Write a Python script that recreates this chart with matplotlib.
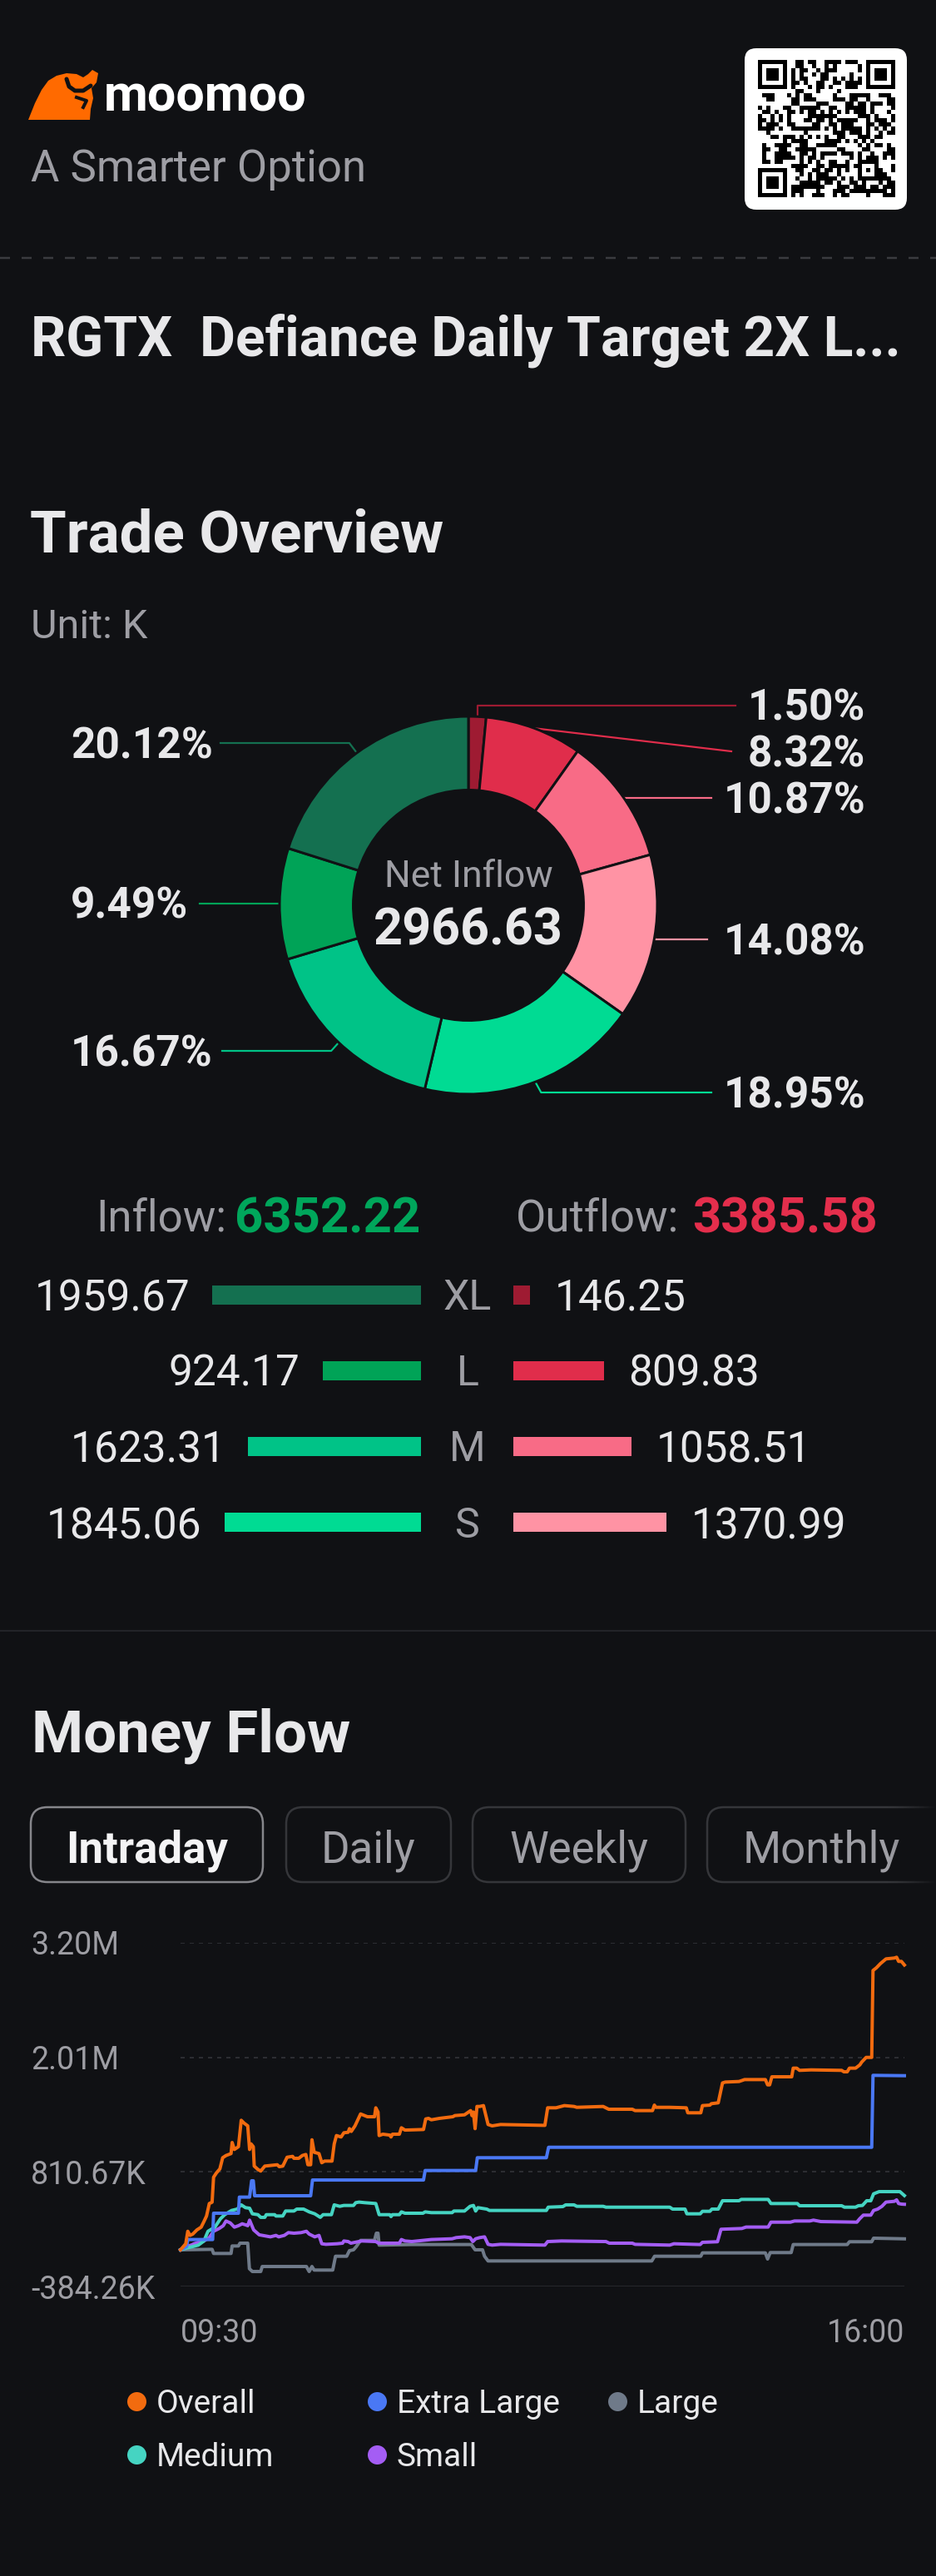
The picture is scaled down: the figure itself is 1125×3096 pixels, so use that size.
import hashlib
import numpy as np
import matplotlib
matplotlib.use("Agg")
import matplotlib.pyplot as plt
from matplotlib.patches import FancyBboxPatch, Polygon

plt.rcParams['font.family'] = ['Roboto', 'DejaVu Sans']
plt.rcParams['lines.scale_dashes'] = False

# ---- data -------------------------------------------------------------
ticker_title = "RGTX  Defiance Daily Target 2X L..."
categories = ["XL", "L", "M", "S"]
inflow = [1959.67, 924.17, 1623.31, 1845.06]
outflow = [146.25, 809.83, 1058.51, 1370.99]
inflow_total = "6352.22"
outflow_total = "3385.58"
net_inflow = "2966.63"

# donut order, clockwise from 12 o'clock
donut_values = [outflow[0], outflow[1], outflow[2], outflow[3],
                inflow[3], inflow[2], inflow[1], inflow[0]]
donut_colors = ['#9e1b32', '#e02d4b', '#f86b86', '#ff93a4',
                '#00db93', '#00c387', '#00a357', '#147050']

tabs = ["Intraday", "Daily", "Weekly", "Monthly"]
y_tick_labels = ['-384.26K', '810.67K', '2.01M', '3.20M']
y_min, y_max = -384.26, 3200.0
x_tick_labels = ['09:30', '16:00']
x_ticks = [0, 390]   # minutes after the open

# intraday cumulative money flow, (minute, value in K)
overall_flow = [
    (0, 0), (2.8, 63), (3.9, 193), (5.1, 150), (6.6, 164), (8.8, 207), (11.1, 236),
    (12.6, 294), (14.0, 352), (15.5, 482), (17.0, 496), (17.8, 756), (19.3, 800),
    (21.2, 843), (22.7, 959), (24.5, 982), (27.2, 1002), (27.8, 1118), (29.0, 1045),
    (31.2, 1074), (32.7, 1349), (34.2, 1320), (36.2, 1291), (37.2, 1045), (38.0, 1103),
    (39.2, 1074), (39.7, 872), (41.7, 837), (43.2, 820), (45.4, 872), (48.4, 878),
    (52.1, 886), (53.2, 866), (55.1, 872), (57.4, 964), (60.4, 973), (61.1, 953),
    (63.7, 953), (65.6, 982), (67.5, 993), (68.6, 886), (70.1, 886), (70.8, 1146),
    (72.0, 1016), (74.6, 1002), (76.1, 907), (77.6, 924), (81.6, 924), (82.8, 1103),
    (84.0, 1190), (86.5, 1175), (88.0, 1219), (90.3, 1224), (91.0, 1262), (92.0, 1233),
    (94.0, 1291), (97.0, 1415), (99.2, 1398), (100.7, 1386), (104.5, 1386), (105.2, 1479),
    (106.4, 1435), (107.0, 1190), (109.0, 1204), (112.7, 1195), (113.4, 1175),
    (114.2, 1204), (117.9, 1204), (119.0, 1271), (120.9, 1247), (130.9, 1253),
    (132.1, 1363), (133.6, 1369), (135.1, 1354), (139.5, 1369), (146.7, 1386),
    (147.8, 1398), (153.0, 1406), (155.2, 1435), (156.3, 1450), (157.0, 1398),
    (157.8, 1435), (158.7, 1262), (159.7, 1493), (161.2, 1493), (163.2, 1502),
    (165.7, 1305), (167.9, 1291), (172.4, 1305), (196.3, 1296), (197.8, 1479),
    (202.3, 1479), (206.8, 1502), (212.0, 1493), (213.5, 1484), (227.7, 1493),
    (230.7, 1464), (243.4, 1464), (244.9, 1450), (254.3, 1450), (255.3, 1507),
    (256.1, 1484), (263.6, 1484), (272.5, 1479), (273.3, 1427), (280.3, 1427),
    (281.2, 1502), (285.2, 1507), (286.0, 1522), (289.7, 1531), (292.0, 1738),
    (293.5, 1747), (300.9, 1753), (303.9, 1773), (315.1, 1773), (316.3, 1718),
    (317.4, 1718), (318.6, 1802), (329.3, 1802), (330.1, 1892), (332.0, 1892),
    (333.5, 1869), (339.8, 1874), (356.2, 1869), (357.4, 1854), (359.2, 1854),
    (360.4, 1892), (363.7, 1892), (366.0, 1926), (367.0, 1955), (369.4, 2004),
    (372.4, 2004), (373.1, 2909), (374.9, 2937), (377.1, 2981), (380.1, 3030),
    (384.6, 3039), (385.8, 3047), (386.9, 3004), (388.4, 3004), (390, 2966.63)]

extra_large_flow = [
    (0, 0), (3.3, 34), (3.9, 107), (17.3, 107), (17.8, 381), (31.2, 381), (31.7, 549),
    (37.2, 549), (38.3, 719), (39.2, 719), (39.9, 563), (70.1, 563), (71.1, 727),
    (130.9, 727), (131.8, 826), (159.0, 826), (159.9, 959), (197.1, 959), (198.3, 1068),
    (372.4, 1068), (373.1, 1817), (390, 1813.42)]

large_flow = [
    (0, 0), (17.0, 5), (17.8, -38), (27.2, -38), (27.8, 40), (31.2, 40), (32.0, 69),
    (36.2, 69), (37.1, -197), (38.7, -226), (43.2, -226), (44.0, -174), (67.8, -174),
    (69.3, -226), (70.8, -174), (72.0, -211), (82.0, -211), (83.5, -67), (89.5, -67),
    (91.0, -9), (93.2, 0), (94.7, 34), (97.0, 98), (104.5, 98), (105.5, 173),
    (106.4, 173), (107.0, 49), (124.6, 55), (156.7, 55), (158.7, 0), (162.7, 0),
    (163.8, -67), (165.7, -116), (253.9, -116), (255.4, -67), (280.3, -67), (281.2, -32),
    (315.1, -32), (316.3, -96), (317.7, -29), (329.0, -29), (330.1, 55), (359.2, 55),
    (360.4, 84), (372.4, 84), (373.4, 121), (390, 114.34)]

medium_flow = [
    (0, 0), (3.6, 20), (6.6, 34), (9.6, 49), (12.6, 92), (14.8, 193), (18.5, 236),
    (21.5, 323), (23.8, 366), (27.5, 410), (30.5, 424), (32.7, 468), (35.0, 439),
    (37.2, 433), (38.7, 375), (41.7, 366), (43.2, 338), (45.4, 338), (46.2, 366),
    (50.7, 366), (51.4, 352), (55.1, 352), (56.6, 404), (61.1, 404), (62.6, 424),
    (66.3, 424), (69.3, 395), (72.3, 375), (75.3, 338), (76.8, 366), (81.3, 366),
    (82.8, 468), (85.8, 453), (88.0, 462), (93.2, 462), (94.4, 491), (96.2, 497),
    (99.2, 491), (105.2, 482), (107.0, 366), (112.7, 366), (113.4, 346), (114.2, 366),
    (117.9, 366), (119.0, 395), (120.9, 381), (130.6, 381), (131.8, 395), (135.1, 387),
    (146.3, 387), (147.3, 404), (153.0, 404), (156.0, 453), (157.8, 462), (159.0, 404),
    (160.2, 439), (165.0, 424), (166.4, 410), (197.1, 410), (198.1, 444), (206.0, 450),
    (207.5, 468), (212.0, 468), (213.5, 453), (227.7, 453), (229.2, 444), (263.6, 444),
    (265.1, 424), (271.8, 424), (272.8, 375), (280.0, 375), (281.2, 401), (285.2, 401),
    (286.3, 424), (289.7, 424), (292.0, 511), (300.9, 511), (302.1, 525), (316.6, 525),
    (318.1, 482), (332.3, 482), (333.5, 459), (356.2, 459), (357.7, 444), (363.7, 444),
    (365.2, 459), (367.4, 462), (369.7, 511), (371.9, 511), (373.4, 583), (376.4, 606),
    (387.6, 606), (390, 564.80)]

small_flow = [
    (0, 0), (2.8, 34), (5.8, 49), (7.3, 63), (9.6, 78), (12.6, 92), (15.5, 127),
    (17.8, 193), (20.8, 222), (23.0, 251), (24.5, 300), (26.8, 280), (29.0, 236),
    (31.2, 251), (33.2, 271), (35.0, 260), (36.2, 251), (37.2, 309), (39.4, 207),
    (42.4, 156), (48.4, 135), (51.4, 150), (52.9, 135), (55.9, 150), (58.1, 179),
    (61.1, 173), (64.9, 179), (67.8, 193), (69.3, 164), (72.3, 135), (74.6, 150),
    (76.1, 63), (78.3, 57), (84.3, 63), (87.3, 69), (88.0, 92), (90.3, 86), (91.8, 69),
    (94.0, 78), (97.7, 92), (105.2, 86), (106.7, 69), (117.9, 69), (119.0, 107),
    (120.9, 92), (124.6, 86), (135.1, 107), (146.3, 115), (148.5, 127), (153.0, 135),
    (156.0, 127), (157.5, 86), (159.0, 115), (161.2, 127), (163.8, 135), (165.7, 57),
    (167.9, 49), (172.4, 57), (196.3, 49), (197.8, 86), (205.3, 92), (229.2, 86),
    (231.0, 69), (243.4, 69), (244.9, 57), (263.6, 49), (265.8, 63), (280.0, 55),
    (281.2, 78), (289.3, 84), (291.2, 214), (302.4, 222), (304.7, 237), (316.6, 237),
    (318.1, 288), (328.6, 288), (330.8, 300), (339.0, 300), (341.0, 309), (345.0, 294),
    (364.4, 288), (365.9, 323), (367.9, 361), (371.9, 361), (373.4, 410), (375.6, 424),
    (377.9, 453), (380.1, 497), (384.6, 505), (385.8, 520), (386.9, 482), (388.4, 476),
    (390, 474.07)]

series_names = ["Overall", "Extra Large", "Large", "Medium", "Small"]
series_colors = ['#f26b0f', '#4a78f4', '#6f7a89', '#45d4c2', '#a45df4']
series_data = [overall_flow, extra_large_flow, large_flow, medium_flow, small_flow]

# ---- style ------------------------------------------------------------
BG = '#101114'
WHITE = '#e8e8ea'
GRAY = '#9e9ea4'
GREEN = '#00a65b'
RED = '#e42e4c'
W, H = 1125, 3096


def pt(p):
    # pixels -> points (dpi 100)
    return p * 0.72


fig = plt.figure(figsize=(W / 100, H / 100), dpi=100)
fig.patch.set_facecolor(BG)
ax0 = fig.add_axes([0, 0, 1, 1])
ax0.set_xlim(0, W)
ax0.set_ylim(H, 0)
ax0.axis('off')


def txt(x, y, s, size, color=WHITE, weight='normal', ha='left', va='baseline', z=5):
    ax0.text(x, y, s, fontsize=size, color=color, fontweight=weight,
             ha=ha, va=va, zorder=z)


# ---- header -------------------------------------------------------------
bull = [(34, 144), (42, 124), (50, 108), (58, 97), (68, 91), (80, 88), (92, 89),
        (100, 93), (106, 89), (111, 84), (118, 88), (116, 99), (110, 106),
        (112, 118), (109, 131), (108, 144)]
ax0.add_patch(Polygon(bull, closed=True, facecolor='#ff6a00', edgecolor='none', zorder=3))
ax0.plot([80, 83, 90, 100, 109], [95, 104, 109, 109, 103], color=BG, lw=pt(5),
         solid_capstyle='round', zorder=4)
ax0.plot([92, 104, 100], [117, 121, 129], color=BG, lw=pt(4), zorder=4)
txt(125, 133, "moomoo", 44, color='#ffffff', weight='bold')
txt(37, 218, "A Smarter Option", 38, color=GRAY)

ax0.add_patch(FancyBboxPatch((895, 58), 195, 194, boxstyle="round,pad=0,rounding_size=14",
                             facecolor='white', edgecolor='none', zorder=3))
n = 33
qr = np.zeros((n, n))
for r in range(n):
    h = hashlib.sha256(f"moomoo-row-{r}".encode()).digest()
    bits = ''.join(f'{b:08b}' for b in h)
    for c in range(n):
        qr[r, c] = int(bits[c])
for r0, c0 in [(0, 0), (0, n - 7), (n - 7, 0)]:
    rr0, cc0 = max(r0 - 1, 0), max(c0 - 1, 0)
    qr[rr0:r0 + 8, cc0:c0 + 8] = 0
    qr[r0:r0 + 7, c0:c0 + 7] = 1
    qr[r0 + 1:r0 + 6, c0 + 1:c0 + 6] = 0
    qr[r0 + 2:r0 + 5, c0 + 2:c0 + 5] = 1
qr[n - 9:n - 4, n - 9:n - 4] = 1
qr[n - 8:n - 5, n - 8:n - 5] = 0
qr[n - 7, n - 7] = 1
ax0.imshow(qr, cmap='gray_r', extent=(911, 1076, 237, 72), interpolation='nearest',
           aspect='auto', zorder=4)

ax0.plot([0, W], [310, 310], color='#3a3b3f', lw=pt(2.5), dashes=(pt(12), pt(14)), zorder=2)

txt(37, 427, ticker_title, 47.5, weight='bold')

# ---- trade overview -----------------------------------------------------
txt(36, 663, "Trade Overview", 51, weight='bold')
txt(37, 767, "Unit: K", 35, color=GRAY)

cx, cy, R = 563, 1088, 227
axd = fig.add_axes([(cx - R) / W, (H - cy - R) / H, 2 * R / W, 2 * R / H])
axd.pie(donut_values, colors=donut_colors, startangle=90, counterclock=False,
        wedgeprops=dict(width=0.39, edgecolor=BG, linewidth=pt(3)))
axd.set_xlim(-1, 1)
axd.set_ylim(-1, 1)
axd.set_aspect('equal')
axd.axis('off')

txt(cx, 1066, "Net Inflow", 32, color=GRAY, ha='center')
txt(cx, 1136, net_inflow, 44, weight='bold', ha='center')

# labels with leader lines
total = sum(donut_values)
label_side = ['r', 'r', 'r', 'r', 'r', 'l', 'l', 'l']
label_y = [848, 903, 959, 1129, 1313, 1263, 1086, 893]
line_end_x = [884, 879, 855, 850, 855, 267, 240, 265]
elbow_dx = [0, None, 0, 0, 7, -9, 0, -9]
cum = 0
for i, v in enumerate(donut_values):
    mid = np.radians(360 * (cum + v / 2) / total)
    cum += v
    sx, sy = cx + R * np.sin(mid), cy - R * np.cos(mid)
    ly = label_y[i]
    if elbow_dx[i] is None:
        xs, ys = [sx, line_end_x[i]], [sy, ly]
    else:
        xs = [sx, sx + elbow_dx[i], line_end_x[i]]
        ys = [sy, ly, ly]
    ax0.plot(xs, ys, color=donut_colors[i], lw=pt(2.2), zorder=4)
    s = f"{100 * v / total:.2f}%"
    if label_side[i] == 'r':
        txt(1040, ly + 18, s, 37, weight='bold', ha='right')
    else:
        txt(85, ly + 18, s, 37, weight='bold', ha='left')

# inflow / outflow totals
txt(115, 1480, "Inflow:", 38, color=GRAY)
txt(282, 1482, inflow_total, 43, color=GREEN, weight='bold')
txt(620, 1480, "Outflow:", 38, color=GRAY)
txt(832, 1482, outflow_total, 43, color=RED, weight='bold')

# inflow / outflow bars
row_y = [1556, 1647, 1738, 1830]
bar_top, bar_bottom = row_y[0] - 45.5, row_y[-1] + 45.5
left_scale, right_scale = 0.128, 0.134   # px per K
axl = fig.add_axes([0, (H - bar_bottom) / H, 506 / W, (bar_bottom - bar_top) / H])
axr = fig.add_axes([617 / W, (H - bar_bottom) / H, (W - 617) / W, (bar_bottom - bar_top) / H])
rows = np.arange(len(categories))
axl.barh(rows, inflow, height=23 / 91, color=donut_colors[7:3:-1])
axr.barh(rows, outflow, height=23 / 91, color=donut_colors[:4])
axl.set_xlim(506 / left_scale, 0)
axr.set_xlim(0, (W - 617) / right_scale)
for a in (axl, axr):
    a.set_ylim(len(categories) - 0.5, -0.5)
    a.axis('off')
    a.patch.set_alpha(0)
for i, c in enumerate(categories):
    y = row_y[i]
    txt(562, y + 18, c, 36, color=GRAY, ha='center')
    txt(506 - inflow[i] * left_scale - 27, y + 19, f"{inflow[i]:.2f}", 37, ha='right')
    txt(617 + outflow[i] * right_scale + 30, y + 19, f"{outflow[i]:.2f}", 37, ha='left')

ax0.plot([0, W], [1960, 1960], color='#232428', lw=pt(2), zorder=2)

# ---- money flow ----------------------------------------------------------
txt(38, 2106, "Money Flow", 51, weight='bold')

tab_x = [(37, 316), (344, 542), (568, 824), (850, 1140)]
for i, (x0, x1) in enumerate(tab_x):
    sel = i == 0
    ax0.add_patch(FancyBboxPatch((x0, 2172), x1 - x0, 90,
                                 boxstyle="round,pad=0,rounding_size=20",
                                 facecolor=BG, edgecolor='#86868b' if sel else '#35363a',
                                 lw=pt(2.5), zorder=3))
    txt((x0 + x1) / 2 if i < 3 else 852 + 135, 2238, tabs[i], 38,
        color='#f4f4f5' if sel else GRAY, weight='bold' if sel else 'normal',
        ha='center', z=5)
fade = np.zeros((2, 60, 4))
bg_rgb = matplotlib.colors.to_rgb(BG)
fade[..., :3] = bg_rgb
fade[..., 3] = np.linspace(0, 1, 60) ** 1.5
ax0.imshow(fade, extent=(1065, 1125, 2275, 2160), aspect='auto', zorder=6)
ax0.set_xlim(0, W)
ax0.set_ylim(H, 0)

# line chart
ch_l, ch_r, ch_t, ch_b = 217, 1087, 2334.7, 2748.3
axc = fig.add_axes([ch_l / W, (H - ch_b) / H, (ch_r - ch_l) / W, (ch_b - ch_t) / H])
axc.patch.set_alpha(0)
axc.set_xlim(x_ticks[0], x_ticks[1])
axc.set_ylim(y_min, y_max)
y_ticks = np.linspace(y_min, y_max, len(y_tick_labels))
for k, yv in enumerate(y_ticks):
    if k == 0:
        axc.axhline(yv, color='#26272b', lw=pt(2), zorder=1)
    else:
        axc.axhline(yv, color='#34353a', lw=pt(1.6), dashes=(pt(5), pt(6)), zorder=1)
draw_order = [2, 4, 3, 1, 0]
for k in draw_order:
    t, v = np.array(series_data[k]).T
    axc.plot(t, v, color=series_colors[k], lw=pt(4), solid_joinstyle='round',
             clip_on=False, zorder=3)
for s in axc.spines.values():
    s.set_visible(False)
axc.set_yticks(y_ticks)
axc.set_yticklabels(y_tick_labels)
axc.tick_params(axis='y', length=0, pad=pt(ch_l - 37), labelsize=27, labelcolor=GRAY)
for lab in axc.get_yticklabels():
    lab.set_ha('left')
axc.set_xticks(x_ticks)
axc.set_xticklabels(x_tick_labels)
axc.tick_params(axis='x', length=0, pad=pt(38), labelsize=27, labelcolor=GRAY)
xl = axc.get_xticklabels()
xl[0].set_ha('left')
xl[1].set_ha('right')

# legend
legend_rows = [[0, 1, 2], [3, 4]]
for r, row in enumerate(legend_rows):
    for c, k in enumerate(row):
        dx = 164 + c * 289
        dy = 2886 + r * 64
        ax0.plot(dx, dy, 'o', ms=pt(23), color=series_colors[k], mec='none', zorder=5)
        txt(dx + 24, dy + 14, series_names[k], 28)

fig.savefig('out.png', facecolor=BG, dpi=100)
